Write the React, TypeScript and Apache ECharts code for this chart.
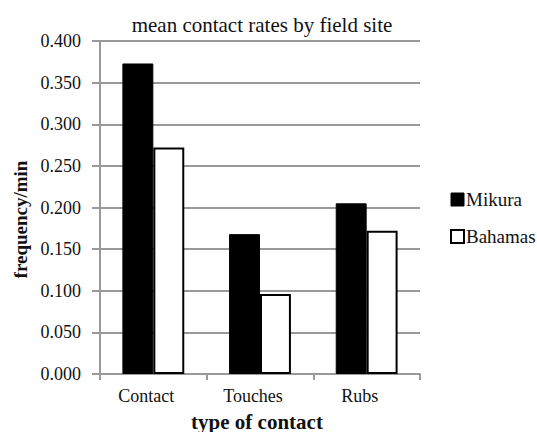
import React, { useEffect, useRef } from "react";
import * as echarts from "echarts";

const categories = ["Contact", "Touches", "Rubs"];
const mikura = [0.373, 0.168, 0.205];
const bahamas = [0.272, 0.096, 0.172];
const yTicks = { min: 0, max: 0.4, interval: 0.05 };

export default function App() {
  const ref = useRef<HTMLDivElement>(null);
  useEffect(() => {
    if (!ref.current) return;
    const chart = echarts.init(ref.current, undefined, { renderer: "svg" });
    const font = "Liberation Serif";
    chart.setOption({
      animation: false,
      backgroundColor: "#fff",
      textStyle: { fontFamily: font },
      title: {
        text: "mean contact rates by field site",
        left: 257,
        textAlign: "center",
        top: 9,
        textStyle: { fontFamily: font, fontSize: 21, fontWeight: "normal", color: "#111" },
      },
      legend: {
        orient: "vertical",
        left: 450,
        top: 190,
        itemWidth: 13,
        itemHeight: 13,
        itemGap: 18,
        padding: [0, 0, 0, 0],
        textStyle: { fontFamily: font, fontSize: 19, color: "#111", padding: [0, 0, 0, -3] },
        data: [
          { name: "Mikura", icon: "rect", itemStyle: { color: "#000", borderColor: "#000", borderWidth: 1 } },
          { name: "Bahamas", icon: "rect", itemStyle: { color: "#fff", borderColor: "#000", borderWidth: 2 } },
        ],
      },
      grid: { left: 100, right: 117, top: 41, bottom: 58, containLabel: false, outerBoundsMode: "none" },
      xAxis: {
        type: "category",
        data: categories,
        name: "type of contact",
        nameLocation: "middle",
        nameGap: 37,
        nameTextStyle: {
          fontFamily: font,
          fontSize: 21,
          fontWeight: "bold",
          color: "#111",
          padding: [0, 6, 0, 0],
        },
        axisLine: { lineStyle: { color: "#999", width: 2 } },
        axisTick: { show: true, length: 6, lineStyle: { color: "#999", width: 2 }, alignWithLabel: false },
        axisLabel: { fontFamily: font, fontSize: 18, color: "#111", margin: 13, padding: [0, 14, 0, 0] },
      },
      yAxis: {
        type: "value",
        min: yTicks.min,
        max: yTicks.max,
        interval: yTicks.interval,
        name: "frequency/min",
        nameLocation: "middle",
        nameGap: 70,
        nameTextStyle: { fontFamily: font, fontSize: 19, fontWeight: "bold", color: "#111", padding: [0, 24, 0, 0] },
        axisLine: { show: true, lineStyle: { color: "#999", width: 2 } },
        axisTick: { show: true, length: 8, lineStyle: { color: "#999", width: 2 } },
        axisLabel: {
          fontFamily: font,
          fontSize: 18,
          color: "#111",
          margin: 19,
          formatter: (v: number) => v.toFixed(3),
        },
        splitLine: { lineStyle: { color: "#999", width: 2 } },
      },
      series: [
        {
          name: "Mikura",
          type: "bar",
          data: mikura,
          barGap: "0%",
          barCategoryGap: "42%",
          itemStyle: { color: "#000", borderColor: "#000", borderWidth: 1 },
        },
        {
          name: "Bahamas",
          type: "bar",
          data: bahamas,
          barGap: "0%",
          barCategoryGap: "42%",
          itemStyle: { color: "#fff", borderColor: "#000", borderWidth: 2 },
        },
      ],
    });
    return () => chart.dispose();
  }, []);
  return <div ref={ref} style={{ position: "absolute", left: 0, top: 0, width: 537, height: 432 }} />;
}
